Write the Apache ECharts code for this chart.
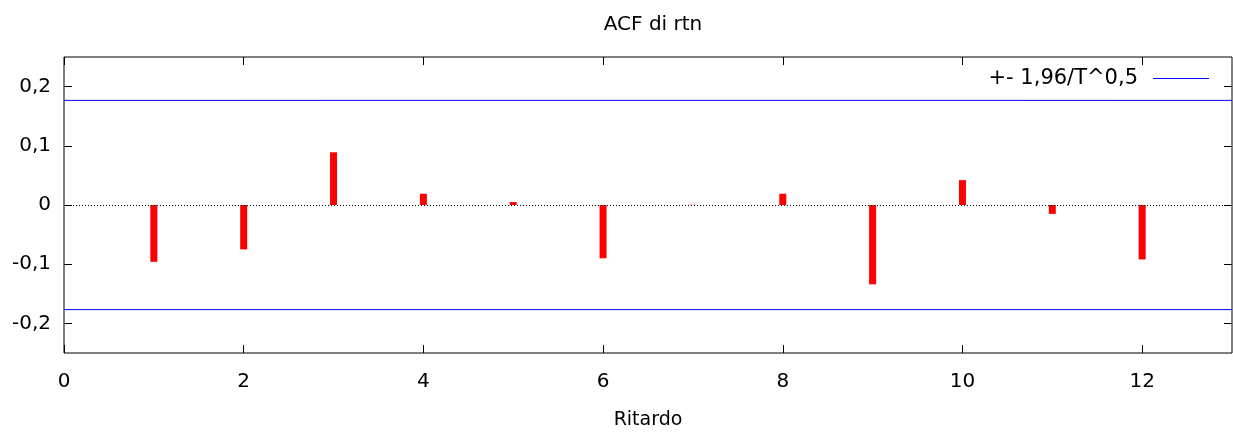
<!DOCTYPE html>
<html>
<head>
<meta charset="utf-8">
<script src="https://cdn.jsdelivr.net/npm/echarts@6/dist/echarts.min.js"></script>
<style>
  html, body { margin: 0; padding: 0; background: #fff; }
  #chart { width: 1233px; height: 433px; }
</style>
</head>
<body>
<div id="chart"></div>
<script>
// dati
const lags = [1, 2, 3, 4, 5, 6, 7, 8, 9, 10, 11, 12];
const acf = [-0.096, -0.075, 0.089, 0.019, 0.005, -0.090, 0.0005, 0.019, -0.134, 0.042, -0.015, -0.092];
const band = 0.1767; // 1,96/T^0,5
const xTicks = [0, 2, 4, 6, 8, 10, 12];
const yTicks = [-0.2, -0.1, 0, 0.1, 0.2];

const font = 'DejaVu Sans';
const fmt = v => (v === 0 ? '0' : v.toFixed(1).replace('.', ','));

const chart = echarts.init(document.getElementById('chart'));

const xBase = {
  type: 'value',
  min: 0,
  max: 13,
  axisLine: { show: false, onZero: false },
  splitLine: { show: false },
  axisTick: { inside: true, length: 8, lineStyle: { color: '#000' }, customValues: xTicks }
};
const yBase = {
  type: 'value',
  min: -0.25,
  max: 0.25,
  axisLine: { show: false, onZero: false },
  splitLine: { show: false },
  axisTick: { inside: true, length: 8, lineStyle: { color: '#000' }, customValues: yTicks }
};

const option = {
  animation: false,
  title: {
    text: 'ACF di rtn',
    left: 648,
    textAlign: 'center',
    top: 10,
    textStyle: { fontFamily: font, fontSize: 20, fontWeight: 'normal', color: '#000' }
  },
  legend: {
    right: 24,
    top: 68,
    padding: 0,
    align: 'right',
    itemWidth: 56,
    itemHeight: 1,
    data: [{ name: '+- 1,96/T^0,5', icon: 'rect' }],
    textStyle: { fontFamily: font, fontSize: 21, color: '#000', padding: [0, 10, 0, 0] }
  },
  grid: {
    left: 64, right: 1, top: 57, bottom: 80,
    outerBoundsMode: 'none',
    show: true, borderColor: '#000', borderWidth: 1
  },
  xAxis: [
    Object.assign({}, xBase, {
      position: 'bottom',
      name: 'Ritardo',
      nameLocation: 'middle',
      nameGap: 58,
      nameTextStyle: { fontFamily: font, fontSize: 19, color: '#000' },
      axisLabel: {
        fontFamily: font, fontSize: 20, color: '#000', margin: 19,
        customValues: xTicks, formatter: v => String(v)
      }
    }),
    Object.assign({}, xBase, { position: 'top', axisLabel: { show: false } })
  ],
  yAxis: [
    Object.assign({}, yBase, {
      position: 'left',
      axisLabel: {
        fontFamily: font, fontSize: 20, color: '#000', margin: 13,
        customValues: yTicks, formatter: fmt
      }
    }),
    Object.assign({}, yBase, { position: 'right', axisLabel: { show: false } })
  ],
  series: [
    {
      type: 'bar',
      name: 'ACF',
      barWidth: 7,
      itemStyle: { color: '#ff0000' },
      data: lags.map((l, i) => [l, acf[i]]),
      markLine: {
        silent: true,
        symbol: 'none',
        label: { show: false },
        lineStyle: { color: '#000', type: [1, 2], width: 1 },
        data: [{ yAxis: 0 }]
      }
    },
    {
      type: 'line',
      name: '+- 1,96/T^0,5',
      symbol: 'none',
      lineStyle: { color: '#0000ff', width: 1 },
      itemStyle: { color: '#0000ff' },
      data: [[0, band], [13, band]]
    },
    {
      type: 'line',
      name: '+- 1,96/T^0,5',
      symbol: 'none',
      lineStyle: { color: '#0000ff', width: 1 },
      itemStyle: { color: '#0000ff' },
      data: [[0, -band], [13, -band]]
    }
  ]
};

chart.setOption(option);
</script>
</body>
</html>
